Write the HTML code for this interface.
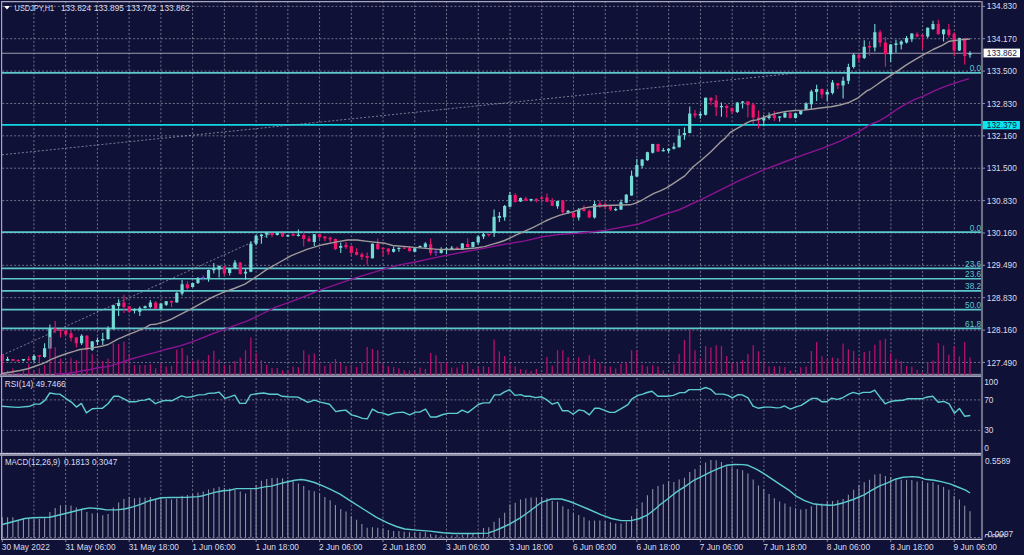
<!DOCTYPE html>
<html><head><meta charset="utf-8"><style>
html,body{margin:0;padding:0;background:#0f1137;overflow:hidden}
svg{display:block}
.g{stroke:#8a8a9e;stroke-width:1;stroke-dasharray:1.983 1.983;opacity:.8;fill:none}
.d{stroke:#a0a0b4;stroke-width:1;stroke-dasharray:2 2;opacity:.75;fill:none}
.b{stroke:#a6a6be;stroke-width:1.2;fill:none}
text{font-family:"Liberation Sans",sans-serif;font-size:8.3px;fill:#dcdcec}
.fl{fill:#5cc8cc}
.tt{white-space:pre}
</style></head><body>
<svg width="1024" height="555" viewBox="0 0 1024 555">
<rect width="1024" height="555" fill="#0f1137"/>
<path d="M33.9 1.21V374M33.9 378.01V453M33.9 457.11V538M65.64 1.21V374M65.64 378.01V453M65.64 457.11V538M97.38 1.21V374M97.38 378.01V453M97.38 457.11V538M129.12 1.21V374M129.12 378.01V453M129.12 457.11V538M160.86 1.21V374M160.86 378.01V453M160.86 457.11V538M192.6 1.21V374M192.6 378.01V453M192.6 457.11V538M224.34 1.21V374M224.34 378.01V453M224.34 457.11V538M256.08 1.21V374M256.08 378.01V453M256.08 457.11V538M287.82 1.21V374M287.82 378.01V453M287.82 457.11V538M319.56 1.21V374M319.56 378.01V453M319.56 457.11V538M351.3 1.21V374M351.3 378.01V453M351.3 457.11V538M383.04 1.21V374M383.04 378.01V453M383.04 457.11V538M414.78 1.21V374M414.78 378.01V453M414.78 457.11V538M446.52 1.21V374M446.52 378.01V453M446.52 457.11V538M478.26 1.21V374M478.26 378.01V453M478.26 457.11V538M510 1.21V374M510 378.01V453M510 457.11V538M541.74 1.21V374M541.74 378.01V453M541.74 457.11V538M573.48 1.21V374M573.48 378.01V453M573.48 457.11V538M605.22 1.21V374M605.22 378.01V453M605.22 457.11V538M636.96 1.21V374M636.96 378.01V453M636.96 457.11V538M668.7 1.21V374M668.7 378.01V453M668.7 457.11V538M700.44 1.21V374M700.44 378.01V453M700.44 457.11V538M732.18 1.21V374M732.18 378.01V453M732.18 457.11V538M763.92 1.21V374M763.92 378.01V453M763.92 457.11V538M795.66 1.21V374M795.66 378.01V453M795.66 457.11V538M827.4 1.21V374M827.4 378.01V453M827.4 457.11V538M859.14 1.21V374M859.14 378.01V453M859.14 457.11V538M890.88 1.21V374M890.88 378.01V453M890.88 457.11V538M922.62 1.21V374M922.62 378.01V453M922.62 457.11V538M954.36 1.21V374M954.36 378.01V453M954.36 457.11V538M2.29 6.35H981M2.29 38.72H981M2.29 71.1H981M2.29 103.47H981M2.29 135.84H981M2.29 168.21H981M2.29 200.59H981M2.29 232.96H981M2.29 265.33H981M2.29 297.71H981M2.29 330.08H981M2.29 362.45H981M2.29 399.9H981M2.29 430.4H981M2.29 453.2H981M2.29 537.5H981" class="g"/>
<line x1="2" y1="53.3" x2="981" y2="53.3" stroke="#9c9cb0" stroke-width="1.1"/>
<path d="M2 72.9H981M2 232.1H981M2 268.4H981M2 278.8H981M2 290.9H981M2 309.6H981M2 328.4H981" stroke="#5cc8cc" stroke-width="1.6"/>
<line x1="2" y1="124.8" x2="981" y2="124.8" stroke="#12d6e2" stroke-width="1.8"/>
<path d="M2 154.8L794 73.3M2 355.2L274 232.3" class="d"/>
<text x="981.2" y="71.4" text-anchor="end" class="fl">0.0</text>
<text x="981.2" y="230.6" text-anchor="end" class="fl">0.0</text>
<text x="981.2" y="266.9" text-anchor="end" class="fl">23.6</text>
<text x="981.2" y="277.3" text-anchor="end" class="fl">23.6</text>
<text x="981.2" y="289.4" text-anchor="end" class="fl">38.2</text>
<text x="981.2" y="308.1" text-anchor="end" class="fl">50.0</text>
<text x="981.2" y="326.9" text-anchor="end" class="fl">61.8</text>
<rect x="0" y="373.8" width="983" height="3.2" fill="#74748e"/>
<line x1="0" y1="374.5" x2="983" y2="374.5" stroke="#84849e" stroke-width="1"/>
<line x1="0" y1="376.4" x2="983" y2="376.4" stroke="#a8a8be" stroke-width="1"/>
<path d="M7.58 356.7V361M23.45 358.9V361.2M34.02 354.6V362.2M44.6 343.3V357.7M49.89 324.5V349M81.62 334.3V345M92.19 341V351M97.48 337.4V345M102.77 332.7V345M108.06 326.3V339.8M113.34 304.7V329.5M118.63 299.2V315.9M134.5 308.3V313.5M139.78 306.5V315.9M145.07 305.5V308.5M150.36 300V308.3M160.94 303.3V309.6M166.22 301V305.9M176.8 291.8V302.6M182.09 280.1V295.4M192.66 282.5V287.5M197.95 277V284M208.53 269.5V281.7M213.82 263V273.5M219.1 265.5V277.6M229.68 268V275.6M234.97 260V268.8M245.54 268.3V279.4M250.83 241.3V272.2M256.12 234.3V245.4M261.41 234.2V243.7M266.7 232V237.8M277.27 232.5V235.5M287.85 234.5V237M298.42 229.6V236.6M314.29 234V246M340.73 242.5V253M372.46 243.5V258.6M393.61 246.6V252.5M398.9 247.5V251.8M414.76 248V252M420.05 245.4V247.5M425.34 242.2V247.8M441.2 247.2V253.6M446.49 247.2V254.2M451.78 246V250M462.35 243V250M472.93 241.8V247.5M478.22 235.3V244.7M483.5 233V238.9M494.08 209.6V237.1M499.37 212V221.9M504.66 204.9V220.7M509.94 192V207.2M520.52 197.5V202M531.1 198.7V201.4M557.54 200.8V208.7M568.11 209.9V214M578.69 208.1V220.4M594.55 201.1V218.6M615.7 207.6V211M620.99 199.5V210M626.28 194V203.2M631.57 170.4V195.8M636.86 158.9V177M642.14 159.2V168.4M647.43 151.8V160.8M652.72 143.7V153.5M663.3 148.1V151.5M668.58 148.1V153M673.87 142.7V149.4M679.16 128.9V147.6M684.45 127.6V139.7M689.74 106.6V133.5M700.31 111.3V118.8M705.6 97.4V115.5M721.46 102.6V116.8M737.33 102.2V113M742.62 101V108.6M763.77 115.1V126.2M769.06 112.5V119.5M779.63 116.3V121.5M784.92 112.3V118M795.5 113V118.4M800.78 110V115.1M806.07 102.2V110.2M811.36 89.8V109.2M816.65 84.8V101M827.22 89.7V101M832.51 80V94.6M843.09 76.7V98.6M848.38 63.8V84M853.66 53.2V68.6M864.24 40.3V58.9M874.82 24V51.6M890.68 44V61.9M895.97 39.7V52.7M901.26 40.3V49.5M906.54 36V43.5M911.83 33.3V42M927.7 27.5V38.1M932.98 20.8V30M943.56 29.2V41.4M959.42 37.8V51M970 51.3V57.8" stroke="#74dcd6" stroke-width="1.1"/>
<path d="M5.98 358.9h3.2V360.7h-3.2zM21.85 358.9h3.2V360.5h-3.2zM32.42 355.9h3.2V360h-3.2zM43 348.3h3.2V356.9h-3.2zM48.29 328.6h3.2V348.5h-3.2zM80.02 335.7h3.2V343.3h-3.2zM90.59 341.5h3.2V349.7h-3.2zM95.88 340.1h3.2V341.8h-3.2zM101.17 339h3.2V340.6h-3.2zM106.46 328.6h3.2V339h-3.2zM111.74 305.2h3.2V329.2h-3.2zM117.03 303h3.2V305.9h-3.2zM132.9 309.2h3.2V310.4h-3.2zM138.18 308.3h3.2V311.8h-3.2zM143.47 306.3h3.2V307.9h-3.2zM148.76 302.4h3.2V307.1h-3.2zM159.34 303.6h3.2V309.4h-3.2zM164.62 301.2h3.2V304.7h-3.2zM175.2 293h3.2V302.4h-3.2zM180.49 284.2h3.2V293.6h-3.2zM191.06 282.9h3.2V287h-3.2zM196.35 278.8h3.2V282.9h-3.2zM206.93 270h3.2V278.2h-3.2zM212.22 268.6h3.2V270.2h-3.2zM217.5 265.9h3.2V269.4h-3.2zM228.08 268.3h3.2V272.9h-3.2zM233.37 262.4h3.2V268.3h-3.2zM243.94 271.8h3.2V273.5h-3.2zM249.23 243.7h3.2V271.8h-3.2zM254.52 235.8h3.2V243.7h-3.2zM259.81 234.6h3.2V236.3h-3.2zM265.1 233.1h3.2V234.6h-3.2zM275.67 232.8h3.2V235.1h-3.2zM286.25 234.9h3.2V236.6h-3.2zM296.82 234.85h3.2V236.05h-3.2zM312.69 234.3h3.2V241.9h-3.2zM339.13 246h3.2V247.8h-3.2zM370.86 243.7h3.2V258.3h-3.2zM392.01 248.9h3.2V251.8h-3.2zM397.3 247.7h3.2V248.9h-3.2zM413.16 248.3h3.2V251.8h-3.2zM418.45 246h3.2V247.2h-3.2zM423.74 243.4h3.2V247.2h-3.2zM439.6 250.1h3.2V253h-3.2zM444.89 248.6h3.2V250.1h-3.2zM450.18 247.7h3.2V249.5h-3.2zM460.75 243.6h3.2V249.5h-3.2zM471.33 242.1h3.2V247.1h-3.2zM476.62 236.5h3.2V242.4h-3.2zM481.9 234.2h3.2V236.5h-3.2zM492.48 216.8h3.2V233h-3.2zM497.77 216h3.2V217.8h-3.2zM503.06 206.1h3.2V217.2h-3.2zM508.34 195h3.2V206.7h-3.2zM518.92 197.9h3.2V201.4h-3.2zM529.5 199h3.2V200.5h-3.2zM555.94 201.1h3.2V206.3h-3.2zM566.51 210.7h3.2V212.8h-3.2zM577.09 209.9h3.2V217.5h-3.2zM592.95 204h3.2V217.5h-3.2zM614.1 208.9h3.2V210.3h-3.2zM619.39 202.2h3.2V209.6h-3.2zM624.68 194.7h3.2V202.8h-3.2zM629.97 175.8h3.2V195.4h-3.2zM635.26 165h3.2V176.5h-3.2zM640.54 159.6h3.2V165.7h-3.2zM645.83 152.2h3.2V160.3h-3.2zM651.12 144.1h3.2V152.8h-3.2zM661.7 150.1h3.2V151.3h-3.2zM666.98 148.8h3.2V150.8h-3.2zM672.27 146.8h3.2V148.8h-3.2zM677.56 135.7h3.2V147.2h-3.2zM682.85 133h3.2V135h-3.2zM688.14 113.4h3.2V133h-3.2zM698.71 114h3.2V115.4h-3.2zM704 97.8h3.2V114.7h-3.2zM719.86 106h3.2V107.3h-3.2zM735.73 102.6h3.2V112h-3.2zM741.02 101.5h3.2V102.7h-3.2zM762.17 118h3.2V120.4h-3.2zM767.46 116.3h3.2V118h-3.2zM778.03 116.5h3.2V117.7h-3.2zM783.32 112.7h3.2V117.4h-3.2zM793.9 113.3h3.2V118h-3.2zM799.18 110.4h3.2V113.9h-3.2zM804.47 103.4h3.2V109.8h-3.2zM809.76 91.5h3.2V104.3h-3.2zM815.05 88.9h3.2V92.1h-3.2zM825.62 92.1h3.2V94.6h-3.2zM830.91 82.4h3.2V92.9h-3.2zM841.49 80.8h3.2V85.6h-3.2zM846.78 67h3.2V80.8h-3.2zM852.06 54.8h3.2V67h-3.2zM862.64 46.7h3.2V58.1h-3.2zM873.22 32.2h3.2V47.6h-3.2zM889.08 44.4h3.2V54.3h-3.2zM894.37 43.5h3.2V45.1h-3.2zM899.66 41.4h3.2V44.6h-3.2zM904.94 38.1h3.2V42.4h-3.2zM910.23 33.6h3.2V39.2h-3.2zM926.1 27.8h3.2V36.5h-3.2zM931.38 24h3.2V28.9h-3.2zM941.96 29.5h3.2V34.3h-3.2zM957.82 38.1h3.2V50.5h-3.2zM968.4 52.9h3.2V54.8h-3.2z" fill="#74dcd6"/>
<path d="M2.3 354.5V361M12.87 358.9V361M18.16 359.2V361.5M28.74 356.2V361.2M39.31 355.2V361.7M55.18 321V333.3M60.46 329V337.4M65.75 330V336.3M71.04 330.4V341.5M76.33 337V347.4M86.9 335V350M123.92 294.8V313M129.21 306V313M155.65 301.2V309M171.51 300.5V307.1M187.38 281.3V289.5M224.39 266V275.3M240.26 262V274.5M271.98 232.8V237.2M282.56 232.8V237M293.14 233.5V236M303.71 230.8V246.6M309 236V242M319.58 233.7V239M324.86 236V241.3M330.15 236.6V242.5M335.44 238.6V250M346.02 242V249M351.3 245.5V256M356.59 248.3V255.4M361.88 252.4V260M367.17 252.4V264.7M377.74 238.4V250.1M383.03 247.5V256.5M388.32 248.3V254.8M404.18 247.5V249M409.47 246V251.6M430.62 238.4V255.4M457.06 246.6V250M467.64 238.3V247.5M488.79 233.7V236.5M515.23 193.2V202.6M525.81 196.7V201M536.38 198.5V202.2M541.67 195.8V202.8M546.96 193.5V202.2M552.25 198.1V206.3M562.82 200.2V215.1M573.4 212.5V218.6M583.98 205.2V211.6M589.26 209.3V218M599.84 200.5V208.1M605.13 202.2V209M610.42 205.8V211M658.01 143.8V152M695.02 110V118.1M710.89 97.4V105.3M716.18 95.1V116.1M726.75 104.6V117.4M732.04 107.5V114M747.9 101.2V117.4M753.19 102.8V123.9M758.48 110.4V128.5M774.34 111V121M790.21 112.3V118.4M821.94 88.5V98.6M837.8 83V88.9M858.95 54.5V62.1M869.53 41.1V55.7M880.1 30V46.8M885.39 37V66.8M917.12 32.2V37.6M922.41 34.3V48.9M938.27 19.7V34.6M948.85 24V37.6M954.14 32.2V55.9M964.71 38V64.6" stroke="#f0146a" stroke-width="1.1"/>
<path d="M0.7 355.2h3.2V360.7h-3.2zM11.27 358.9h3.2V360.7h-3.2zM16.56 360h3.2V361.2h-3.2zM27.14 358.7h3.2V360h-3.2zM37.71 355.2h3.2V356.7h-3.2zM53.58 328.6h3.2V330.4h-3.2zM58.86 329.8h3.2V331h-3.2zM64.15 330.4h3.2V334.5h-3.2zM69.44 333.3h3.2V338h-3.2zM74.73 337.4h3.2V343.3h-3.2zM85.3 335.7h3.2V349.7h-3.2zM122.32 302.4h3.2V307.1h-3.2zM127.61 306.3h3.2V311.8h-3.2zM154.05 302.4h3.2V308.8h-3.2zM169.91 300.9h3.2V302.4h-3.2zM185.78 284.2h3.2V288.3h-3.2zM222.79 266.5h3.2V273.5h-3.2zM238.66 262.4h3.2V274.1h-3.2zM270.38 233.1h3.2V234.9h-3.2zM280.96 233.1h3.2V236.6h-3.2zM291.54 233.7h3.2V235.8h-3.2zM302.11 234.9h3.2V239h-3.2zM307.4 238.4h3.2V241.3h-3.2zM317.98 234.3h3.2V237.2h-3.2zM323.26 236.6h3.2V238.4h-3.2zM328.55 237.8h3.2V239.6h-3.2zM333.84 239h3.2V248.9h-3.2zM344.42 244.8h3.2V247.2h-3.2zM349.7 246h3.2V253h-3.2zM354.99 251.9h3.2V254.8h-3.2zM360.28 254.2h3.2V257.1h-3.2zM365.57 256h3.2V257.7h-3.2zM376.14 243.7h3.2V248.9h-3.2zM381.43 247.75h3.2V248.95h-3.2zM386.72 248.5h3.2V251.8h-3.2zM402.58 247.55h3.2V248.75h-3.2zM407.87 247.7h3.2V251.3h-3.2zM429.02 244.2h3.2V253h-3.2zM455.46 247.7h3.2V249.5h-3.2zM466.04 244.1h3.2V247.1h-3.2zM487.19 233.95h3.2V235.15h-3.2zM513.63 195h3.2V202h-3.2zM524.21 198.5h3.2V200.8h-3.2zM534.78 198.7h3.2V200.5h-3.2zM540.07 197.55h3.2V198.75h-3.2zM545.36 197.6h3.2V201.7h-3.2zM550.65 201.1h3.2V205.8h-3.2zM561.22 200.5h3.2V212.2h-3.2zM571.8 212.8h3.2V217.5h-3.2zM582.38 208.7h3.2V211h-3.2zM587.66 211h3.2V217.5h-3.2zM598.24 203.5h3.2V205.2h-3.2zM603.53 204.2h3.2V206.9h-3.2zM608.82 206.2h3.2V209.6h-3.2zM656.41 144.1h3.2V151.5h-3.2zM693.42 113.4h3.2V115.4h-3.2zM709.29 97.8h3.2V100.5h-3.2zM714.58 100.5h3.2V107.3h-3.2zM725.15 106h3.2V108h-3.2zM730.44 108h3.2V111.4h-3.2zM746.3 101.6h3.2V105.1h-3.2zM751.59 104.5h3.2V117.4h-3.2zM756.88 117.4h3.2V119.8h-3.2zM772.74 115.1h3.2V118h-3.2zM788.61 112.7h3.2V118h-3.2zM820.34 88.9h3.2V94.6h-3.2zM836.2 83.2h3.2V85.6h-3.2zM857.35 54.8h3.2V58.1h-3.2zM867.93 45.9h3.2V47.6h-3.2zM878.5 32.2h3.2V42.4h-3.2zM883.79 42.4h3.2V54.3h-3.2zM915.52 34.3h3.2V36.5h-3.2zM920.81 34.9h3.2V36.5h-3.2zM936.67 24h3.2V34.3h-3.2zM947.25 29.5h3.2V34.9h-3.2zM952.54 33.8h3.2V50.5h-3.2zM963.11 38.3h3.2V56h-3.2z" fill="#f0146a"/>
<path d="M203.24 275.3V280.5M435.91 248.9V255.9" stroke="#7a3ad0" stroke-width="1.1"/>
<path d="M201.64 276.9h3.2V278.1h-3.2zM434.31 251.3h3.2V253h-3.2z" fill="#7a3ad0"/>
<path d="M2.3 375V355M7.58 375V370.6M12.87 375V368.2M18.16 375V373M23.45 375V370.6M28.74 375V363.4M34.02 375V371.5M39.31 375V368.2M44.6 375V365M49.89 375V337M55.18 375V347.3M60.46 375V358.5M65.75 375V361.8M71.04 375V357.7M76.33 375V360.2M81.62 375V349.7M86.9 375V348.9M92.19 375V353.7M97.48 375V357.7M102.77 375V361M108.06 375V358.5M113.34 375V343.2M118.63 375V344M123.92 375V341.6M129.21 375V353.7M134.5 375V365M139.78 375V365M145.07 375V365M150.36 375V364.2M155.65 375V368.2M160.94 375V363.4M166.22 375V366.6M171.51 375V365.8M176.8 375V349.7M182.09 375V348.1M187.38 375V355.3M192.66 375V361M197.95 375V359.4M203.24 375V360.2M208.53 375V355M213.82 375V350.8M219.1 375V359.4M224.39 375V365M229.68 375V365M234.97 375V361M240.26 375V357.7M245.54 375V350.2M250.83 375V337.6M256.12 375V352.9M261.41 375V360.2M266.7 375V364.7M271.98 375V367.9M277.27 375V367.9M282.56 375V370.2M287.85 375V369.8M293.14 375V366.6M298.42 375V366.9M303.71 375V350.2M309 375V354.5M314.29 375V353.4M319.58 375V362.1M324.86 375V366.1M330.15 375V363.4M335.44 375V358.9M340.73 375V362.9M346.02 375V366.3M351.3 375V365M356.59 375V366.9M361.88 375V362.6M367.17 375V346.9M372.46 375V348.9M377.74 375V350.2M383.03 375V363.4M388.32 375V366.3M393.61 375V366.9M398.9 375V368.2M404.18 375V370.2M409.47 375V370.6M414.76 375V371.8M420.05 375V367.4M425.34 375V369M430.62 375V352.9M435.91 375V355.3M441.2 375V362.1M446.49 375V362.6M451.78 375V367.4M457.06 375V367.4M462.35 375V364.2M467.64 375V363.1M472.93 375V369M478.22 375V367.4M483.5 375V366.3M488.79 375V366.9M494.08 375V339.5M499.37 375V351.3M504.66 375V356.1M509.94 375V363.7M515.23 375V366.3M520.52 375V369M525.81 375V369.8M531.1 375V371.1M536.38 375V369M541.67 375V372.7M546.96 375V356.9M552.25 375V365.8M557.54 375V350.2M562.82 375V350.2M568.11 375V356.9M573.4 375V361M578.69 375V357.3M583.98 375V361M589.26 375V355.3M594.55 375V358.9M599.84 375V363.1M605.13 375V365.8M610.42 375V366.6M615.7 375V368.5M620.99 375V363.7M626.28 375V362.6M631.57 375V350.2M636.86 375V350.2M642.14 375V364.7M647.43 375V366.6M652.72 375V365.3M658.01 375V366.3M663.3 375V370.2M668.58 375V373.9M673.87 375V364.2M679.16 375V354M684.45 375V340M689.74 375V329.2M695.02 375V350.2M700.31 375V358.5M705.6 375V346M710.89 375V347.6M716.18 375V345.3M721.46 375V346M726.75 375V356.1M732.04 375V363.1M737.33 375V362.1M742.62 375V360.2M747.9 375V354M753.19 375V345.3M758.48 375V351.3M763.77 375V361M769.06 375V366.6M774.34 375V366.6M779.63 375V366.3M784.92 375V366.9M790.21 375V370.6M795.5 375V373.4M800.78 375V367.2M806.07 375V366.5M811.36 375V351.1M816.65 375V342.1M821.94 375V356.2M827.22 375V359.3M832.51 375V357.5M837.8 375V358M843.09 375V343.5M848.38 375V349.3M853.66 375V351.1M858.95 375V357.5M864.24 375V352M869.53 375V351.1M874.82 375V344.8M880.1 375V340.3M885.39 375V338.8M890.68 375V353.3M895.97 375V359.3M901.26 375V361.1M906.54 375V366M911.83 375V366.5M917.12 375V370.1M922.41 375V372.5M927.7 375V362M932.98 375V360.5M938.27 375V343M943.56 375V345.4M948.85 375V354.7M954.14 375V346.1M959.42 375V356.6M964.71 375V342.1M970 375V357.5" stroke="#b4106c" stroke-width="1.3"/>
<polyline points="1.6,373.5 10,372.2 20,370.5 27.8,368.75 35.6,366 43.4,363.3 51.25,359.4 59,356.25 66.9,353.5 74.7,351.2 80,349.5 90.8,348.1 101.6,346.3 108.1,344.5 112.4,342.2 117.8,339.1 123.2,336.8 128.6,334.4 134.1,332.4 139.5,330.1 144.9,327.9 150.3,324.6 155.7,324.3 161.1,322.7 166.5,321.1 171.9,318.9 180,314.6 190.8,309.1 201.6,303.1 212.4,297.2 223.2,292.3 234.1,288.5 244.9,284.2 255.7,277.2 266.5,269.6 280,262 291.3,255.6 306.9,249.4 322.5,244.7 338.1,241.6 347.5,240 356.9,240 369.4,241.6 385,243.3 392.8,245.5 414.3,247.4 437.7,249.4 451.7,249.5 463.4,249 475.2,248 484.5,246.6 492.8,244.2 498.6,242.5 504.5,240.5 510.3,237.8 516.2,234.9 522.1,232.3 533.8,227.2 545.5,221 551.4,218.4 560.1,215.1 573.5,211.6 583.5,208.1 595.3,206.3 605,205.5 630,204.8 635,203.4 641.3,200.5 647.6,196.8 653.9,193.3 660.2,190.8 666.5,187.9 672.8,183.8 679.1,179.7 684.8,175.9 693.1,166.8 702.1,159.5 711.1,151.4 720.1,142.4 725,138.4 730,132.6 735.4,129.3 740.8,126.4 746.2,123.1 751.6,120.7 757,119.9 762.4,118 767.8,115.8 777,113.2 786,111.4 795,110.5 804,110.1 813.1,109 822.1,107.7 831.1,106.8 840.1,105 849.1,102.3 858.1,97.8 867.1,90.6 870,89.5 879,83.2 888,77.2 897,71.4 906,65.1 915,59.7 924.1,54.3 933.1,49.5 942.1,45.3 949.3,41.2 960.1,39.9 970,39" fill="none" stroke="#a09a9a" stroke-width="1.4" stroke-linejoin="round"/>
<polyline points="55,374.3 66.9,373.4 74.7,372.3 82.5,370.7 90.3,369.5 98.1,367.8 108.8,366.4 118.6,363.4 129.7,359.5 144.9,355.1 155.7,352.4 166.5,349.2 180,345.9 191.6,342.2 202.4,337.8 213.2,333.5 224.1,329.7 234.9,325.4 245.7,321.6 256.5,316.8 260,315 275.6,307.2 291.3,301.7 306.9,295.5 319.4,290.3 338.1,283.8 353.8,278.3 369.4,273.6 385,268.9 400.6,264.6 414.3,262.2 437.7,257.1 465,251.8 478.4,249.4 501.8,244.7 525,240.9 542.6,236.8 560.1,234.4 577.7,233.3 595.3,231.5 605,230.4 639,224 662.6,215 678.6,210 702.1,199.2 720.1,190.2 738.1,181.2 760.1,171.3 789.6,160 804,154.6 822.1,148.3 840.1,141.1 858.1,132.1 870,124.6 879,121 888,115.6 897,109.3 906,103.9 915,99.4 924.1,95.8 933.1,91.3 942.1,87.7 951.1,84.4 960.1,81.4 969.1,78.6" fill="none" stroke="#8c1490" stroke-width="1.4" stroke-linejoin="round"/>
<path d="M2.3 537.4V517.3M7.58 537.4V517.3M12.87 537.4V517.3M18.16 537.4V519.8M23.45 537.4V519M28.74 537.4V518.5M34.02 537.4V519M39.31 537.4V519M44.6 537.4V518.2M49.89 537.4V512M55.18 537.4V507.9M60.46 537.4V505.2M65.75 537.4V504.9M71.04 537.4V505.4M76.33 537.4V507.4M81.62 537.4V509.9M86.9 537.4V512M92.19 537.4V513.5M97.48 537.4V513.2M102.77 537.4V515.2M108.06 537.4V514M113.34 537.4V507.4M118.63 537.4V502.4M123.92 537.4V499.1M129.21 537.4V496.9M134.5 537.4V498.2M139.78 537.4V497.4M145.07 537.4V497.4M150.36 537.4V496.9M155.65 537.4V499.1M160.94 537.4V497.4M166.22 537.4V499.1M171.51 537.4V499.6M176.8 537.4V498.6M182.09 537.4V495.7M187.38 537.4V494.9M192.66 537.4V494.1M197.95 537.4V492.4M203.24 537.4V491.6M208.53 537.4V489.6M213.82 537.4V488.3M219.1 537.4V486.9M224.39 537.4V487.9M229.68 537.4V488.6M234.97 537.4V489.9M240.26 537.4V491.6M245.54 537.4V493.6M250.83 537.4V489.6M256.12 537.4V485M261.41 537.4V480.8M266.7 537.4V479.1M271.98 537.4V478M277.27 537.4V477.8M282.56 537.4V478.3M287.85 537.4V480M293.14 537.4V481.3M298.42 537.4V483.6M303.71 537.4V486.1M309 537.4V490.3M314.29 537.4V491.3M319.58 537.4V493.3M324.86 537.4V496.9M330.15 537.4V500.2M335.44 537.4V504.9M340.73 537.4V509M346.02 537.4V511.5M351.3 537.4V516.2M356.59 537.4V519.8M361.88 537.4V524M367.17 537.4V527.8M372.46 537.4V527.3M377.74 537.4V527.8M383.03 537.4V528.5M388.32 537.4V530.1M393.61 537.4V531.1M398.9 537.4V531.1M404.18 537.4V531.8M409.47 537.4V532.3M414.76 537.4V532.3M420.05 537.4V532.3M425.34 537.4V532.3M430.62 537.4V534M435.91 537.4V534.8M441.2 537.4V535.6M446.49 537.4V535.6M451.78 537.4V535.6M457.06 537.4V535.1M462.35 537.4V534.8M467.64 537.4V534M472.93 537.4V534M478.22 537.4V532.3M483.5 537.4V528.1M488.79 537.4V527.3M494.08 537.4V521.8M499.37 537.4V518M504.66 537.4V512.8M509.94 537.4V504.5M515.23 537.4V502.8M520.52 537.4V499.5M525.81 537.4V498.2M531.1 537.4V497.4M536.38 537.4V497.4M541.67 537.4V496.9M546.96 537.4V498.2M552.25 537.4V500.7M557.54 537.4V501.8M562.82 537.4V506.2M568.11 537.4V509M573.4 537.4V512.8M578.69 537.4V515.1M583.98 537.4V517.3M589.26 537.4V520.6M594.55 537.4V520.6M599.84 537.4V520.6M605.13 537.4V521.1M610.42 537.4V522.3M615.7 537.4V523.4M620.99 537.4V523.4M626.28 537.4V521.4M631.57 537.4V516.1M636.86 537.4V508.5M642.14 537.4V502.3M647.43 537.4V495.2M652.72 537.4V489.1M658.01 537.4V486.1M663.3 537.4V484.3M668.58 537.4V481.2M673.87 537.4V482.1M679.16 537.4V479.6M684.45 537.4V477.8M689.74 537.4V472.1M695.02 537.4V469.1M700.31 537.4V465M705.6 537.4V462.5M710.89 537.4V460M716.18 537.4V460.3M721.46 537.4V462M726.75 537.4V466.3M732.04 537.4V467M737.33 537.4V469.1M742.62 537.4V470.3M747.9 537.4V473.6M753.19 537.4V479.6M758.48 537.4V485.4M763.77 537.4V489.1M769.06 537.4V494M774.34 537.4V498.2M779.63 537.4V501.5M784.92 537.4V503.5M790.21 537.4V506.8M795.5 537.4V508.2M800.78 537.4V509.5M806.07 537.4V509M811.36 537.4V506.2M816.65 537.4V504.5M821.94 537.4V503.5M827.22 537.4V501.2M832.51 537.4V501.1M837.8 537.4V500.3M843.09 537.4V499.1M848.38 537.4V494.8M853.66 537.4V489.7M858.95 537.4V485M864.24 537.4V482.3M869.53 537.4V479.7M874.82 537.4V474.5M880.1 537.4V473.8M885.39 537.4V476.1M890.68 537.4V476.9M895.97 537.4V480M901.26 537.4V479.7M906.54 537.4V479.7M911.83 537.4V480M917.12 537.4V481.6M922.41 537.4V480.8M927.7 537.4V482.8M932.98 537.4V482.3M938.27 537.4V484.7M943.56 537.4V487M948.85 537.4V489.7M954.14 537.4V495.9M959.42 537.4V499.5M964.71 537.4V505.8M970 537.4V511.3" stroke="#8e8ea2" stroke-width="1.1"/>
<polyline points="2.3,524.5 16.6,520.7 24.9,518.5 33.2,517.7 49.8,517.3 66.4,513.2 83.1,509 89.7,507.9 99.7,508.7 106.3,509.9 116.3,509.9 124.6,509 132.9,506.9 141.2,504.1 149.5,500.7 161.1,497.7 170.1,497.5 186.6,497.4 198.2,496.6 203.2,495.7 214.8,492.4 223.1,490.8 229.8,490.3 236.4,488.6 248.1,488.6 256.4,488.6 264.7,486.9 271.3,486.1 281.3,483.3 294.6,480.3 301.2,479.5 306.2,480.3 314.5,482.5 322.8,485.8 330,489.1 340,494.1 351.6,501.6 363.2,509 376.5,517.3 388.1,523.2 396.4,526.5 404.8,529 416.4,530.1 429.7,531.1 443,532.8 454.6,533.5 471.2,533.5 487.8,533.1 495,530.6 500.1,528.5 510,523.9 519.9,518.1 528.2,512.3 541.5,502.3 551.5,499 561.4,499 569.8,501.5 578.1,504.8 588,509 601.3,514.8 611.3,518.5 621.2,520.6 631.2,520.6 639.5,518.5 647.8,514.8 656.1,508.2 660,504.8 668.3,498.5 676.6,491.9 684.9,486.6 693.2,480.7 701.5,476.6 709.8,472.4 718.1,468.6 726.4,465.3 734.8,464.5 743.1,464.6 748,465.3 756.3,469.1 764.7,474.1 779.6,484.1 789.6,490.7 796.2,496.2 804.5,500.7 812.8,503.7 821.1,504.8 830.1,505.3 834.4,505 843.8,502.7 853.1,499.5 864.1,494.8 871.9,490.2 879.7,485.9 887.5,482.8 895.3,479.2 903.1,477.2 912.5,476.6 918.8,477.2 925,479.2 934.4,480.3 942.2,481.9 950,483.9 957.8,487 965.6,490.2 970,493" fill="none" stroke="#5cccd0" stroke-width="1.4" stroke-linejoin="round"/>
<polyline points="2,406.2 13.3,407.1 18.3,407.4 29.9,406.2 34.9,404.1 39.9,404.1 44.9,400.4 49.8,393 56.5,394.1 59.8,394.1 66.4,398.8 71.4,402.1 76.4,407.1 81.4,403.4 86.4,412.9 92.2,408.7 97.2,408.4 102.2,408.4 108,403.7 113.8,396.3 118.8,396.3 123.8,398.8 129.6,401.8 135.4,401.8 140.4,400.4 144.5,400.1 149.5,398.8 155.3,403.7 161.1,401.3 166.1,400.4 171.6,400.8 181.6,395.9 186.6,397.4 191.6,396.8 198.2,394.9 204.9,394.6 208.2,393.4 214.8,393 219,392.1 224.8,398.3 229.8,396.8 234.8,395.1 239.8,403.4 245.6,403.4 250.5,394.9 256.4,393.8 263.8,393 269.7,394.3 278,394.3 282.1,396.3 287.9,396.8 297.9,397.1 303.7,400.1 307.9,402.4 314.5,400.1 320.3,402.1 329.5,404.2 335.8,411.6 340,410.7 345.8,410.1 351.6,414.9 356.6,416.2 362.4,418.4 367.4,418.7 372.4,409.1 378.2,412.4 382.3,412.9 388.1,415 394.8,412.9 403.1,412.1 409.7,414.9 415.5,412.1 419.7,412.1 425.5,409.1 430.5,417 436.3,417 443,414.5 447.9,413.4 457.1,413.4 462.1,410.1 467.9,412.6 472.9,408.7 478.7,404.2 483.7,402.9 489.5,402.9 494.5,394.9 500,394.9 504.1,392.1 509.6,389.6 514.9,395.4 520.7,394.6 524.9,396.3 529.9,396.3 535.7,397.6 541.5,396.8 546.5,399.6 552.3,404.2 557.8,402.4 562.3,410.7 568.1,410.7 573.1,414.2 578.9,409.9 583.9,410.9 589.4,414.9 594.7,408.2 598.8,408.2 604.6,410.4 609.6,412.4 614.6,412.4 621.2,408.7 627.9,404.6 632,398.8 637.9,395.4 642.8,394.1 647,392.5 652,391.3 657.8,396.3 667.5,396.3 673.3,395.4 679.9,392.6 684.9,392.6 689.1,389.6 699.9,389.6 705.7,387.5 710.7,389.3 715.6,394.1 723.1,394.1 728.1,395.4 732.3,397.9 738.1,394.6 742.2,394.9 748,397.9 753,406.2 758,408.2 764.7,407.1 770.5,407.1 776.3,407.9 780.4,407.6 784.3,405.9 790.4,409.1 795.4,407.1 801.2,405.4 806.2,402.1 812,398.4 817,398.4 822,401.8 826.9,401.8 831.3,398.3 837.5,399.4 842.2,398 848.4,394.4 853.1,392.4 858.6,393.9 863.3,392.4 870.3,392.4 874.7,390.2 879.7,396.8 885.2,403.8 890.6,401.4 895.3,400.7 903.1,400.3 907,398.8 921.9,398.8 926.6,397.2 932.8,396.3 938.3,402.2 943.8,401.4 949.2,403.8 954.4,413.2 959.4,408.5 964.8,416.3 970.3,415.5" fill="none" stroke="#5cccd0" stroke-width="1.4" stroke-linejoin="round"/>
<path d="M1.6 375V1.6H982" class="b"/>
<rect x="0" y="452.9" width="983" height="3.1" fill="#8a8aa2"/>
<line x1="0" y1="453.5" x2="983" y2="453.5" stroke="#c4c4d6" stroke-width="1.2"/>
<path d="M1.6 376V539.4" class="b"/>
<path d="M1 539.4H982.5" stroke="#c0c0d2" stroke-width="1.3"/>
<line x1="982" y1="1" x2="982" y2="539" stroke="#6e6e86" stroke-width="2.1"/>
<path d="M982 6.35H985M982 38.72H985M982 71.1H985M982 103.47H985M982 135.84H985M982 168.21H985M982 200.59H985M982 232.96H985M982 265.33H985M982 297.71H985M982 330.08H985M982 362.45H985" stroke="#8c8ca8" stroke-width="1"/>
<text x="986.8" y="9.3">134.830</text>
<text x="986.8" y="41.7">134.170</text>
<text x="986.8" y="74.1">133.500</text>
<text x="986.8" y="106.5">132.830</text>
<text x="986.8" y="138.8">132.160</text>
<text x="986.8" y="171.2">131.500</text>
<text x="986.8" y="203.6">130.830</text>
<text x="986.8" y="236.0">130.160</text>
<text x="986.8" y="268.3">129.490</text>
<text x="986.8" y="300.7">128.830</text>
<text x="986.8" y="333.1">128.160</text>
<text x="986.8" y="365.5">127.490</text>
<rect x="983.5" y="48.6" width="36.5" height="8.8" fill="#ffffff"/>
<text x="986.8" y="56" style="fill:#20204a">133.862</text>
<rect x="982.7" y="121" width="37.2" height="8.3" fill="#0ae6f0"/>
<text x="986.8" y="128.1" style="fill:#10143c">132.379</text>
<text x="984.2" y="385.4">100</text>
<text x="984.2" y="402.9">70</text>
<text x="984.2" y="433.4">30</text>
<text x="984.2" y="451.2">0</text>
<text x="985" y="463.5">0.5589</text>
<text x="985" y="537.3">-0.0097</text>
<clipPath id="cp"><rect x="983" y="530" width="40" height="7.6"/></clipPath>
<text x="984.5" y="539.8" clip-path="url(#cp)">0.000</text>
<text x="953.6" y="550">9 Jun 06:00</text>
<text x="890.2" y="550">8 Jun 18:00</text>
<text x="826.7" y="550">8 Jun 06:00</text>
<text x="763.3" y="550">7 Jun 18:00</text>
<text x="699.8" y="550">7 Jun 06:00</text>
<text x="636.4" y="550">6 Jun 18:00</text>
<text x="572.9" y="550">6 Jun 06:00</text>
<text x="509.4" y="550">3 Jun 18:00</text>
<text x="446.0" y="550">3 Jun 06:00</text>
<text x="382.5" y="550">2 Jun 18:00</text>
<text x="319.1" y="550">2 Jun 06:00</text>
<text x="255.6" y="550">1 Jun 18:00</text>
<text x="192.2" y="550">1 Jun 06:00</text>
<text x="128.7" y="550">31 May 18:00</text>
<text x="65.3" y="550">31 May 06:00</text>
<text x="1.8" y="550">30 May 2022</text>
<path d="M954.14 539.6V542M890.68 539.6V542M827.22 539.6V542M763.77 539.6V542M700.31 539.6V542M636.86 539.6V542M573.4 539.6V542M509.94 539.6V542M446.49 539.6V542M383.03 539.6V542M319.58 539.6V542M256.12 539.6V542M192.66 539.6V542M129.21 539.6V542M65.75 539.6V542M2.3 539.6V542" stroke="#8c8ca8" stroke-width="1"/>
<path d="M4 6H10L7 9.4Z" fill="#ffffff"/>
<text x="14.6" y="11" textLength="39.6" lengthAdjust="spacingAndGlyphs">USDJPY,H1</text>
<text x="61" y="11">133.824</text>
<text x="93.9" y="11">133.895</text>
<text x="126.4" y="11">133.762</text>
<text x="159.8" y="11">133.862</text>
<text x="4.8" y="387" class="tt">RSI(14) 49.7466</text>
<text x="4.9" y="465" textLength="55.3" lengthAdjust="spacingAndGlyphs">MACD(12,26,9)</text>
<text x="64" y="465">0.1813</text>
<text x="91.9" y="465">0.3047</text>
</svg></body></html>
